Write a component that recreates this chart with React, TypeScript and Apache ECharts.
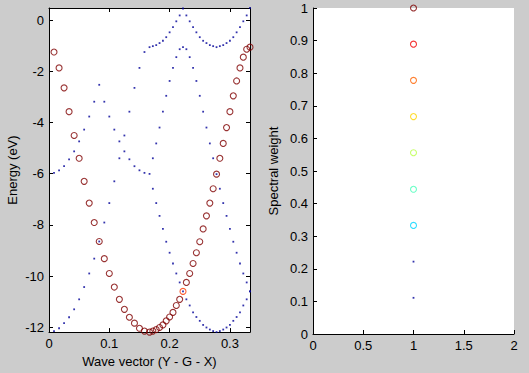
import React, { useEffect, useRef } from 'react';
import * as echarts from 'echarts';

// Wave vector along Y - G - X (20 points on Y-G, 30 points on G-X)
const waveVector = [
  0.0083, 0.0167, 0.025, 0.0333, 0.0417, 0.05, 0.0583, 0.0667, 0.075, 0.0833,
  0.0917, 0.1, 0.1083, 0.1167, 0.125, 0.1333, 0.1417, 0.15, 0.1583, 0.1667,
  0.1722, 0.1778, 0.1833, 0.1889, 0.1944, 0.2, 0.2056, 0.2111, 0.2167, 0.2222,
  0.2278, 0.2333, 0.2389, 0.2444, 0.25, 0.2556, 0.2611, 0.2667, 0.2722, 0.2778,
  0.2833, 0.2889, 0.2944, 0.3, 0.3056, 0.3111, 0.3167, 0.3222, 0.3278, 0.3333,
];

// Main (unfolded) band, spectral weight ~ 1
const mainBand = [
  -1.25, -1.87, -2.65, -3.58, -4.51, -5.40, -6.30, -7.15, -7.91, -8.65,
  -9.32, -9.90, -10.43, -10.91, -11.30, -11.61, -11.84, -12.04, -12.15, -12.19,
  -12.15, -12.09, -12.01, -11.91, -11.75, -11.60, -11.42, -11.15, -10.91, -10.60,
  -10.25, -9.90, -9.51, -9.09, -8.66, -8.16, -7.65, -7.15, -6.59, -6.02,
  -5.40, -4.82, -4.20, -3.58, -2.96, -2.38, -1.87, -1.45, -1.14, -1.06,
];
// Point of the main band where it crosses a folded band (mixed weight)
const crossingIndex = [29];
const crossingWeight = [0.82];

// Folded (shadow) bands, low spectral weight
const foldA = [
  -5.97, -5.87, -5.71, -5.44, -5.13, -4.74, -4.28, -3.77, -3.19, -2.53,
  -3.19, -3.77, -4.28, -4.74, -5.13, -5.44, -5.71, -5.87, -5.97, -6.01,
];
const foldC = [
  -12.15, -12.04, -11.84, -11.61, -11.30, -10.91, -10.43, -9.90, -9.32, -8.65,
  -7.91, -7.15, -6.30, -5.40, -4.51, -3.58, -2.65, -1.87, -1.25, -1.06,
];
const foldL = [
  -6.59, -7.15, -7.65, -8.16, -8.66, -9.09, -9.51, -9.90, -10.25, -10.60,
  -10.91, -11.15, -11.42, -11.60, -11.75, -11.91, -12.01, -12.09, -12.15, -12.19,
  -12.15, -12.09, -12.01, -11.91, -11.75, -11.60, -11.42, -11.15, -10.91, -10.60,
];
const foldE = [
  -5.40, -4.82, -4.20, -3.58, -2.96, -2.38, -1.87, -1.45, -1.14, -1.06,
  -1.14, -1.45, -1.87, -2.38, -2.96, -3.58, -4.20, -4.82, -5.40, -6.02,
  -6.59, -7.15, -7.65, -8.16, -8.66, -9.09, -9.51, -9.90, -10.25, -10.60,
];
const foldF = [
  -1.02, -0.98, -0.90, -0.81, -0.67, -0.48, -0.28, -0.05, 0.18, 0.45,
  0.18, -0.05, -0.28, -0.48, -0.67, -0.81, -0.90, -0.98, -1.02, -1.06,
  -1.02, -0.98, -0.90, -0.81, -0.67, -0.48, -0.28, -0.05, 0.18, 0.47,
];

// Colour scale (right panel)
const scaleX = [1, 1, 1, 1, 1, 1, 1, 1, 1];
const scaleWeight = [1, 0.889, 0.778, 0.667, 0.556, 0.444, 0.333, 0.222, 0.111];

const energyTicks = [-12, -10, -8, -6, -4, -2, 0];
const waveTicks = [0, 0.1, 0.2, 0.3];

function jet(t: number): string {
  const c = (v: number) => Math.round(Math.max(0, Math.min(1, v)) * 255);
  const r = c(1.5 - Math.abs(4 * t - 3));
  const g = c(1.5 - Math.abs(4 * t - 2));
  const b = c(1.5 - Math.abs(4 * t - 1));
  return `rgb(${r},${g},${b})`;
}

const FONT = '"Liberation Sans", Arial, sans-serif';
const DOT_LIMIT = 0.3;
const DOT_COLOR = '#000098';
const CIRCLE_SIZE = 6;
const DOT_SIZE = 1.8;

export default function App() {
  const ref = useRef<HTMLDivElement>(null);
  useEffect(() => {
    if (!ref.current) return;
    const chart = echarts.init(ref.current, null, { renderer: 'svg' });

    const ygCount = foldA.length;
    const dots: number[][] = [];
    foldA.forEach((v, i) => dots.push([waveVector[i], v]));
    foldC.forEach((v, i) => dots.push([waveVector[i], v]));
    [foldL, foldE, foldF].forEach((band) =>
      band.forEach((v, i) => dots.push([waveVector[ygCount + i], v]))
    );

    const circles = mainBand.map((v, i) => {
      const ci = crossingIndex.indexOf(i);
      const w = ci >= 0 ? crossingWeight[ci] : 1;
      return {
        value: [waveVector[i], v],
        itemStyle: { color: 'rgba(0,0,0,0)', borderColor: jet(w), borderWidth: 1.1 },
      };
    });

    const scalePts = scaleWeight.map((w, i) =>
      w > DOT_LIMIT
        ? {
            value: [scaleX[i], w],
            symbol: 'circle',
            symbolSize: CIRCLE_SIZE,
            itemStyle: { color: 'rgba(0,0,0,0)', borderColor: jet(w), borderWidth: 1.1 },
          }
        : {
            value: [scaleX[i], w],
            symbol: 'rect',
            symbolSize: DOT_SIZE,
            itemStyle: { color: DOT_COLOR },
          }
    );

    const axisLine = { show: true, onZero: false, lineStyle: { color: '#000', width: 1 } };
    const label = { color: '#000', fontSize: 13, fontFamily: FONT };
    const tick = { show: true, inside: true, length: 4, lineStyle: { color: '#000' } };
    const nameStyle = { color: '#000', fontSize: 13, fontFamily: FONT };

    chart.setOption({
      animation: false,
      backgroundColor: '#cccccc',
      textStyle: { fontFamily: FONT },
      grid: [
        { left: 49, top: 8, width: 201, height: 326, show: true, backgroundColor: '#fff', borderWidth: 0 },
        { left: 313, top: 8, width: 201, height: 326, show: true, backgroundColor: '#fff', borderWidth: 0 },
      ],
      xAxis: [
        {
          type: 'value', gridIndex: 0, min: 0, max: 0.3333, position: 'bottom',
          axisLine, splitLine: { show: false },
          axisTick: { ...tick, customValues: waveTicks },
          axisLabel: { ...label, margin: 5, customValues: waveTicks },
          name: 'Wave vector (Y - G - X)', nameLocation: 'middle', nameGap: 22, nameTextStyle: nameStyle,
        },
        {
          type: 'value', gridIndex: 0, min: 0, max: 0.3333, position: 'top',
          axisLine, splitLine: { show: false },
          axisTick: { ...tick, customValues: waveTicks },
          axisLabel: { show: false },
        },
        {
          type: 'value', gridIndex: 1, min: 0, max: 2, interval: 0.5, position: 'bottom',
          axisLine, splitLine: { show: false },
          axisTick: tick,
          axisLabel: { ...label, margin: 5 },
        },
      ],
      yAxis: [
        {
          type: 'value', gridIndex: 0, min: -12.19, max: 0.47, position: 'left',
          axisLine, splitLine: { show: false },
          axisTick: { ...tick, customValues: energyTicks },
          axisLabel: { ...label, margin: 5, customValues: energyTicks },
          name: 'Energy (eV)', nameLocation: 'middle', nameGap: 30, nameTextStyle: nameStyle,
        },
        {
          type: 'value', gridIndex: 0, min: -12.19, max: 0.47, position: 'right',
          axisLine, splitLine: { show: false },
          axisTick: { ...tick, customValues: energyTicks },
          axisLabel: { show: false },
        },
        {
          type: 'value', gridIndex: 1, min: 0, max: 1, interval: 0.1, position: 'left',
          axisLine, splitLine: { show: false },
          axisTick: tick,
          axisLabel: { ...label, margin: 5 },
          name: 'Spectral weight', nameLocation: 'middle', nameGap: 33, nameTextStyle: nameStyle,
        },
      ],
      series: [
        {
          type: 'scatter', xAxisIndex: 0, yAxisIndex: 0, clip: false,
          symbol: 'rect', symbolSize: DOT_SIZE,
          itemStyle: { color: DOT_COLOR },
          data: dots,
        },
        {
          type: 'scatter', xAxisIndex: 0, yAxisIndex: 0, clip: false,
          symbol: 'circle', symbolSize: CIRCLE_SIZE,
          data: circles,
        },
        {
          type: 'scatter', xAxisIndex: 2, yAxisIndex: 2, clip: false,
          data: scalePts,
        },
      ],
    });
    return () => chart.dispose();
  }, []);
  return (
    <div
      ref={ref}
      style={{ position: 'fixed', left: 0, top: 0, width: 529, height: 373, background: '#cccccc' }}
    />
  );
}
